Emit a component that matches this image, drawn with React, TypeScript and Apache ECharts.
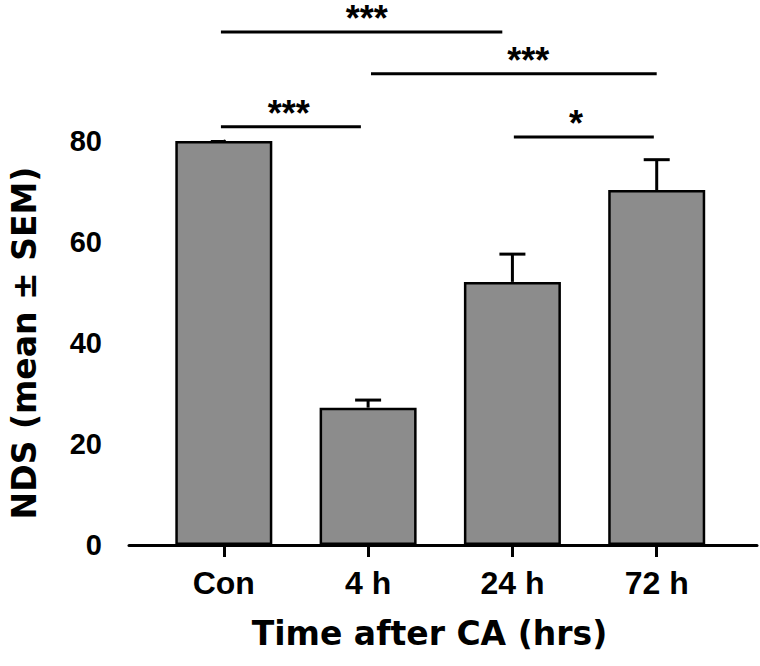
import React, { useEffect, useRef } from "react";
import * as echarts from "echarts";

const categories = ["Con", "4 h", "24 h", "72 h"];
const categoryPositions = [0, 1, 2, 3];
const means = [80, 27.2, 52.1, 70.3];
const sems = [0, 1.5, 5.5, 6.0];
const yTicks = [0, 20, 40, 60, 80];

// significance brackets
const sigStart = [-0.02, 1.02, -0.02, 2.01];
const sigEnd = [1.93, 3.0, 0.95, 2.98];
const sigLevel = [101.6, 93.3, 82.8, 80.8];
const sigLabelX = [0.99, 2.11, 0.45, 2.44];
const sigLabels = ["***", "***", "***", "*"];

export default function App() {
  const ref = useRef<HTMLDivElement>(null);
  useEffect(() => {
    if (!ref.current) return;
    const chart = echarts.init(ref.current, null, { renderer: "svg" });
    const barData = categoryPositions.map((x, i) => [x, means[i]]);
    const errData = categoryPositions.map((x, i) => [x, means[i], sems[i]]);
    const sigData = sigLabels.map((l, i) => [sigStart[i], sigEnd[i], sigLevel[i], sigLabelX[i]]);
    chart.setOption({
      animation: false,
      backgroundColor: "#ffffff",
      grid: { left: 128, right: 3, top: 141, bottom: 121, containLabel: false },
      xAxis: {
        type: "value",
        min: -0.657,
        max: 3.695,
        splitLine: { show: false },
        axisLine: { show: true, lineStyle: { color: "#000", width: 3 } },
        axisTick: { show: true, length: 12, customValues: categoryPositions, lineStyle: { color: "#000", width: 3 } },
        axisLabel: {
          customValues: categoryPositions,
          formatter: (v: number) => categories[Math.round(v)] ?? "",
          color: "#000",
          fontFamily: "Liberation Sans",
          fontWeight: "bold",
          fontSize: 32,
          margin: 22,
        },
        name: "Time after CA (hrs)",
        nameLocation: "middle",
        nameGap: 72,
        nameTextStyle: { color: "#000", fontFamily: "DejaVu Sans", fontWeight: "bold", fontSize: 33, padding: [0, 27, 0, 0] },
      },
      yAxis: {
        type: "value",
        min: 0,
        max: 80,
        interval: 20,
        splitLine: { show: false },
        axisLine: { show: true, lineStyle: { color: "#000", width: 3 } },
        axisTick: { show: true, length: 13, lineStyle: { color: "#000", width: 3 } },
        axisLabel: {
          color: "#000",
          fontFamily: "Liberation Sans",
          fontWeight: "bold",
          fontSize: 29,
          margin: 27,
          formatter: (v: number) => (yTicks.includes(v) ? String(v) : ""),
        },
        name: "NDS (mean ± SEM)",
        nameLocation: "middle",
        nameGap: 88,
        nameTextStyle: { color: "#000", fontFamily: "DejaVu Sans", fontWeight: "bold", fontSize: 33 },
      },
      series: [
        {
          type: "bar",
          data: barData,
          barWidth: 97,
          itemStyle: { color: "#8c8c8c", borderColor: "#000", borderWidth: 2.5 },
          z: 2,
        },
        {
          type: "custom",
          data: errData,
          z: 3,
          renderItem: (params: any, api: any) => {
            const x = api.value(0);
            const m = api.value(1);
            const s = api.value(2);
            if (!s) return null;
            const p0 = api.coord([x, m]);
            const p1 = api.coord([x, m + s]);
            return {
              type: "group",
              children: [
                { type: "line", shape: { x1: p0[0], y1: p0[1], x2: p1[0], y2: p1[1] }, style: { stroke: "#000", lineWidth: 3 } },
                { type: "line", shape: { x1: p1[0] - 13, y1: p1[1], x2: p1[0] + 13, y2: p1[1] }, style: { stroke: "#000", lineWidth: 3 } },
              ],
            };
          },
        },
        {
          type: "custom",
          data: sigData,
          clip: false,
          z: 4,
          renderItem: (params: any, api: any) => {
            const a = api.coord([api.value(0), api.value(2)]);
            const b = api.coord([api.value(1), api.value(2)]);
            const t = api.coord([api.value(3), api.value(2)]);
            return {
              type: "group",
              children: [
                { type: "line", shape: { x1: a[0], y1: a[1], x2: b[0], y2: b[1] }, style: { stroke: "#000", lineWidth: 3 } },
                {
                  type: "text",
                  x: t[0],
                  y: t[1] - 13,
                  style: {
                    text: sigLabels[params.dataIndex],
                    fill: "#000",
                    font: "bold 36px 'Liberation Sans'",
                    lineHeight: 22,
                    align: "center",
                    verticalAlign: "middle",
                  },
                },
              ],
            };
          },
        },
      ],
    });
    return () => chart.dispose();
  }, []);
  return <div ref={ref} style={{ position: "fixed", left: 0, top: 0, width: 760, height: 666 }} />;
}
